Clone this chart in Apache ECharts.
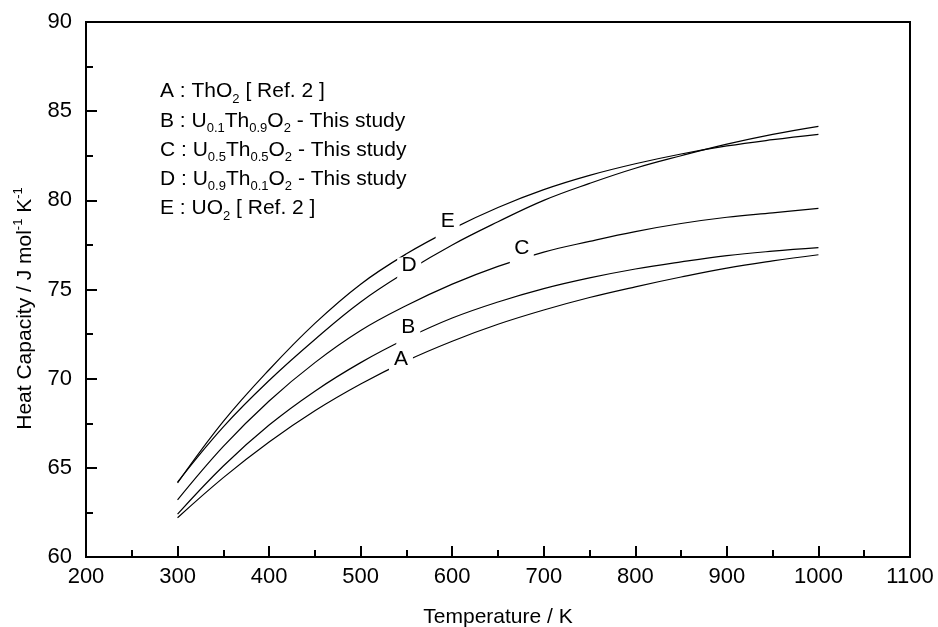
<!DOCTYPE html>
<html>
<head>
<meta charset="utf-8">
<script src="https://cdn.jsdelivr.net/npm/echarts@6/dist/echarts.min.js"></script>
<style>
  html, body { margin: 0; padding: 0; background: #fff; }
  #chart { width: 938px; height: 627px; }
</style>
</head>
<body>
<div id="chart"></div>
<script>
// temperatures (K) at which the curves were read
let temps = [300, 350, 400, 450, 500, 550, 600, 650, 700, 750, 800, 850, 900, 950, 1000];

// heat capacity, J mol-1 K-1
let cpA = [62.2, 64.45, 66.45, 68.2, 69.7, 71.0, 72.1, 73.05, 73.85, 74.55, 75.15, 75.7, 76.2, 76.6, 76.95];
let cpB = [62.4, 65.1, 67.4, 69.3, 70.9, 72.25, 73.4, 74.3, 75.05, 75.65, 76.15, 76.55, 76.9, 77.15, 77.35];
let cpC = [63.2, 66.2, 68.75, 70.9, 72.7, 74.1, 75.3, 76.3, 77.1, 77.7, 78.25, 78.7, 79.05, 79.3, 79.55];
let cpD = [64.2, 67.3, 69.9, 72.2, 74.3, 76.0, 77.5, 78.8, 80.0, 80.95, 81.8, 82.5, 83.15, 83.7, 84.15];
let cpE = [64.15, 67.6, 70.5, 73.1, 75.3, 77.0, 78.4, 79.6, 80.6, 81.4, 82.05, 82.6, 83.05, 83.4, 83.7];

let curveNames = ['A', 'B', 'C', 'D', 'E'];
// where each letter sits on its curve [T, Cp]
let labelAt = [[544, 71.1], [552, 72.9], [676, 77.3], [553, 76.35], [595, 78.85]];

let legendLines = [
  '{m|A : ThO}{s|2}{m| [ Ref. 2 ]}',
  '{m|B : U}{s|0.1}{m|Th}{s|0.9}{m|O}{s|2}{m| - This study}',
  '{m|C : U}{s|0.5}{m|Th}{s|0.5}{m|O}{s|2}{m| - This study}',
  '{m|D : U}{s|0.9}{m|Th}{s|0.1}{m|O}{s|2}{m| - This study}',
  '{m|E : UO}{s|2}{m| [ Ref. 2 ]}',
];

const FONT = 'Liberation Sans, Arial, sans-serif';

function pairs(vals) {
  return temps.map((t, i) => [t, vals[i]]);
}

function makeSeries(name, vals, idx) {
  return {
    name: name,
    type: 'line',
    data: pairs(vals),
    smooth: 0.4,
    showSymbol: false,
    symbol: 'none',
    lineStyle: { color: '#000', width: 1.2 },
    markPoint: {
      symbol: 'rect',
      symbolSize: [24, 26],
      symbolOffset: [0, 5],
      itemStyle: { color: '#fff' },
      label: {
        show: true,
        position: 'inside',
        offset: [0, -5],
        formatter: name,
        color: '#000',
        fontFamily: FONT,
        fontSize: 21,
      },
      data: [{ coord: labelAt[idx] }],
    },
  };
}

let chart = echarts.init(document.getElementById('chart'));

let axisCommon = {
  type: 'value',
  axisLine: { show: true, onZero: false, lineStyle: { color: '#000', width: 2 } },
  axisTick: { show: true, inside: true, length: 11, lineStyle: { color: '#000', width: 2 } },
  minorTick: { show: true, splitNumber: 2, length: 7, lineStyle: { color: '#000', width: 2 } },
  splitLine: { show: false },
  nameTextStyle: { color: '#000', fontFamily: FONT, fontSize: 21 },
};

let option = {
  animation: false,
  backgroundColor: '#fff',
  grid: {
    left: 86, right: 28, top: 22, bottom: 70,
    outerBoundsMode: 'none',
    containLabel: false,
    show: true, borderColor: '#000', borderWidth: 2,
  },
  xAxis: Object.assign({}, axisCommon, {
    min: 200,
    max: 1100,
    interval: 100,
    name: 'Temperature / K',
    nameLocation: 'middle',
    nameGap: 50,
    axisLabel: { color: '#000', fontFamily: FONT, fontSize: 22, margin: 9, formatter: v => String(v) },
  }),
  yAxis: Object.assign({}, axisCommon, {
    min: 60,
    max: 90,
    interval: 5,
    name: '{a|Heat Capacity / J mol}{b|-1}{a| K}{b|-1}',
    nameLocation: 'middle',
    nameGap: 48,
    nameTextStyle: {
      color: '#000',
      fontFamily: FONT,
      fontSize: 21,
      padding: [0, 38, 0, 0],
      rich: {
        a: { fontFamily: FONT, fontSize: 21, color: '#000', lineHeight: 26 },
        b: { fontFamily: FONT, fontSize: 13, color: '#000', verticalAlign: 'top', lineHeight: 12 },
      },
    },
    axisLabel: { color: '#000', fontFamily: FONT, fontSize: 22, margin: 14 },
  }),
  graphic: legendLines.map((txt, i) => ({
    type: 'text',
    left: 160,
    top: 81 + i * 29.3,
    style: {
      text: txt,
      fill: '#000',
      rich: {
        m: { fontFamily: FONT, fontSize: 21, fill: '#000', lineHeight: 28 },
        s: { fontFamily: FONT, fontSize: 13, fill: '#000', verticalAlign: 'bottom', lineHeight: 10 },
      },
    },
  })),
  series: [
    makeSeries('A', cpA, 0),
    makeSeries('B', cpB, 1),
    makeSeries('C', cpC, 2),
    makeSeries('D', cpD, 3),
    makeSeries('E', cpE, 4),
  ],
};

chart.setOption(option);
</script>
</body>
</html>
